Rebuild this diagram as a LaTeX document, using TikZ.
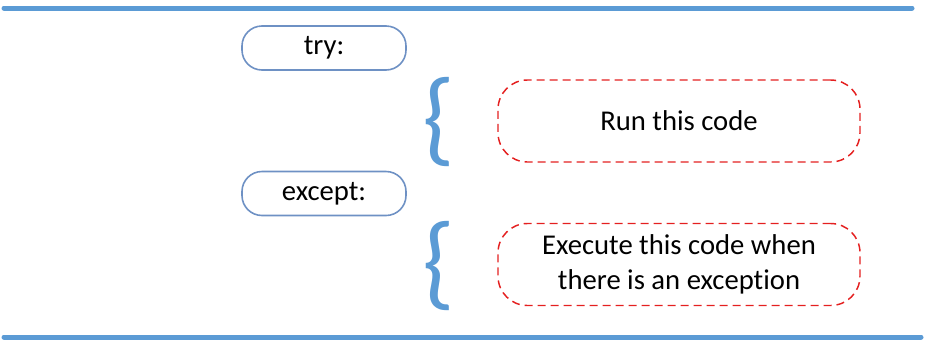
\documentclass[tikz,border=0pt]{standalone}
\usepackage{fontspec}
\setmainfont[Ligatures=NoCommon]{Carlito}
\usetikzlibrary{positioning}

\definecolor{barblue}{RGB}{91,155,213}
\definecolor{keyblue}{RGB}{110,145,196}
\definecolor{codered}{RGB}{228,32,32}

\tikzstyle{keyword} = [rectangle, rounded corners=15pt, minimum width=123pt, minimum height=33pt, text centered, draw=keyblue, line width=1.2pt]
\tikzstyle{codebox} = [rectangle, rounded corners=22pt, minimum width=271.5pt, minimum height=61.5pt, align=center, draw=codered, dash pattern=on 6pt off 3.75pt, line width=1.1pt]
\tikzstyle{bracket} = [text=barblue, inner sep=0pt, font=\fontsize{78}{78}\selectfont]
\tikzstyle{bar} = [barblue, line width=3.75pt, line cap=round]

\begin{document}
\begin{tikzpicture}[x=0.75pt, y=-0.75pt, font=\fontsize{21.5}{26}\selectfont]
\useasboundingbox (0,0) rectangle (928,347);
\coordinate (topl) at (4,8);
\coordinate (topr) at (912,8);
\coordinate (botl) at (4,337);
\coordinate (botr) at (921,337);
\draw [bar] (topl) -- (topr);
\draw [bar] (botl) -- (botr);

\node (try) [keyword] at (324,48) {try:};
\node (except) [keyword] at (324,193.5) {except:};
\node (run) [codebox] at (679,121) {Run this code};
\node (handle) [codebox] at (679,264.5) {Execute this code when\\there is an exception};

% curly brackets in front of each block
\node (runbrace) [bracket, left=31pt of run, yshift=-1pt] {\{};
\node (handlebrace) [bracket, left=31pt of handle, yshift=-1pt] {\{};
\end{tikzpicture}
\end{document}
